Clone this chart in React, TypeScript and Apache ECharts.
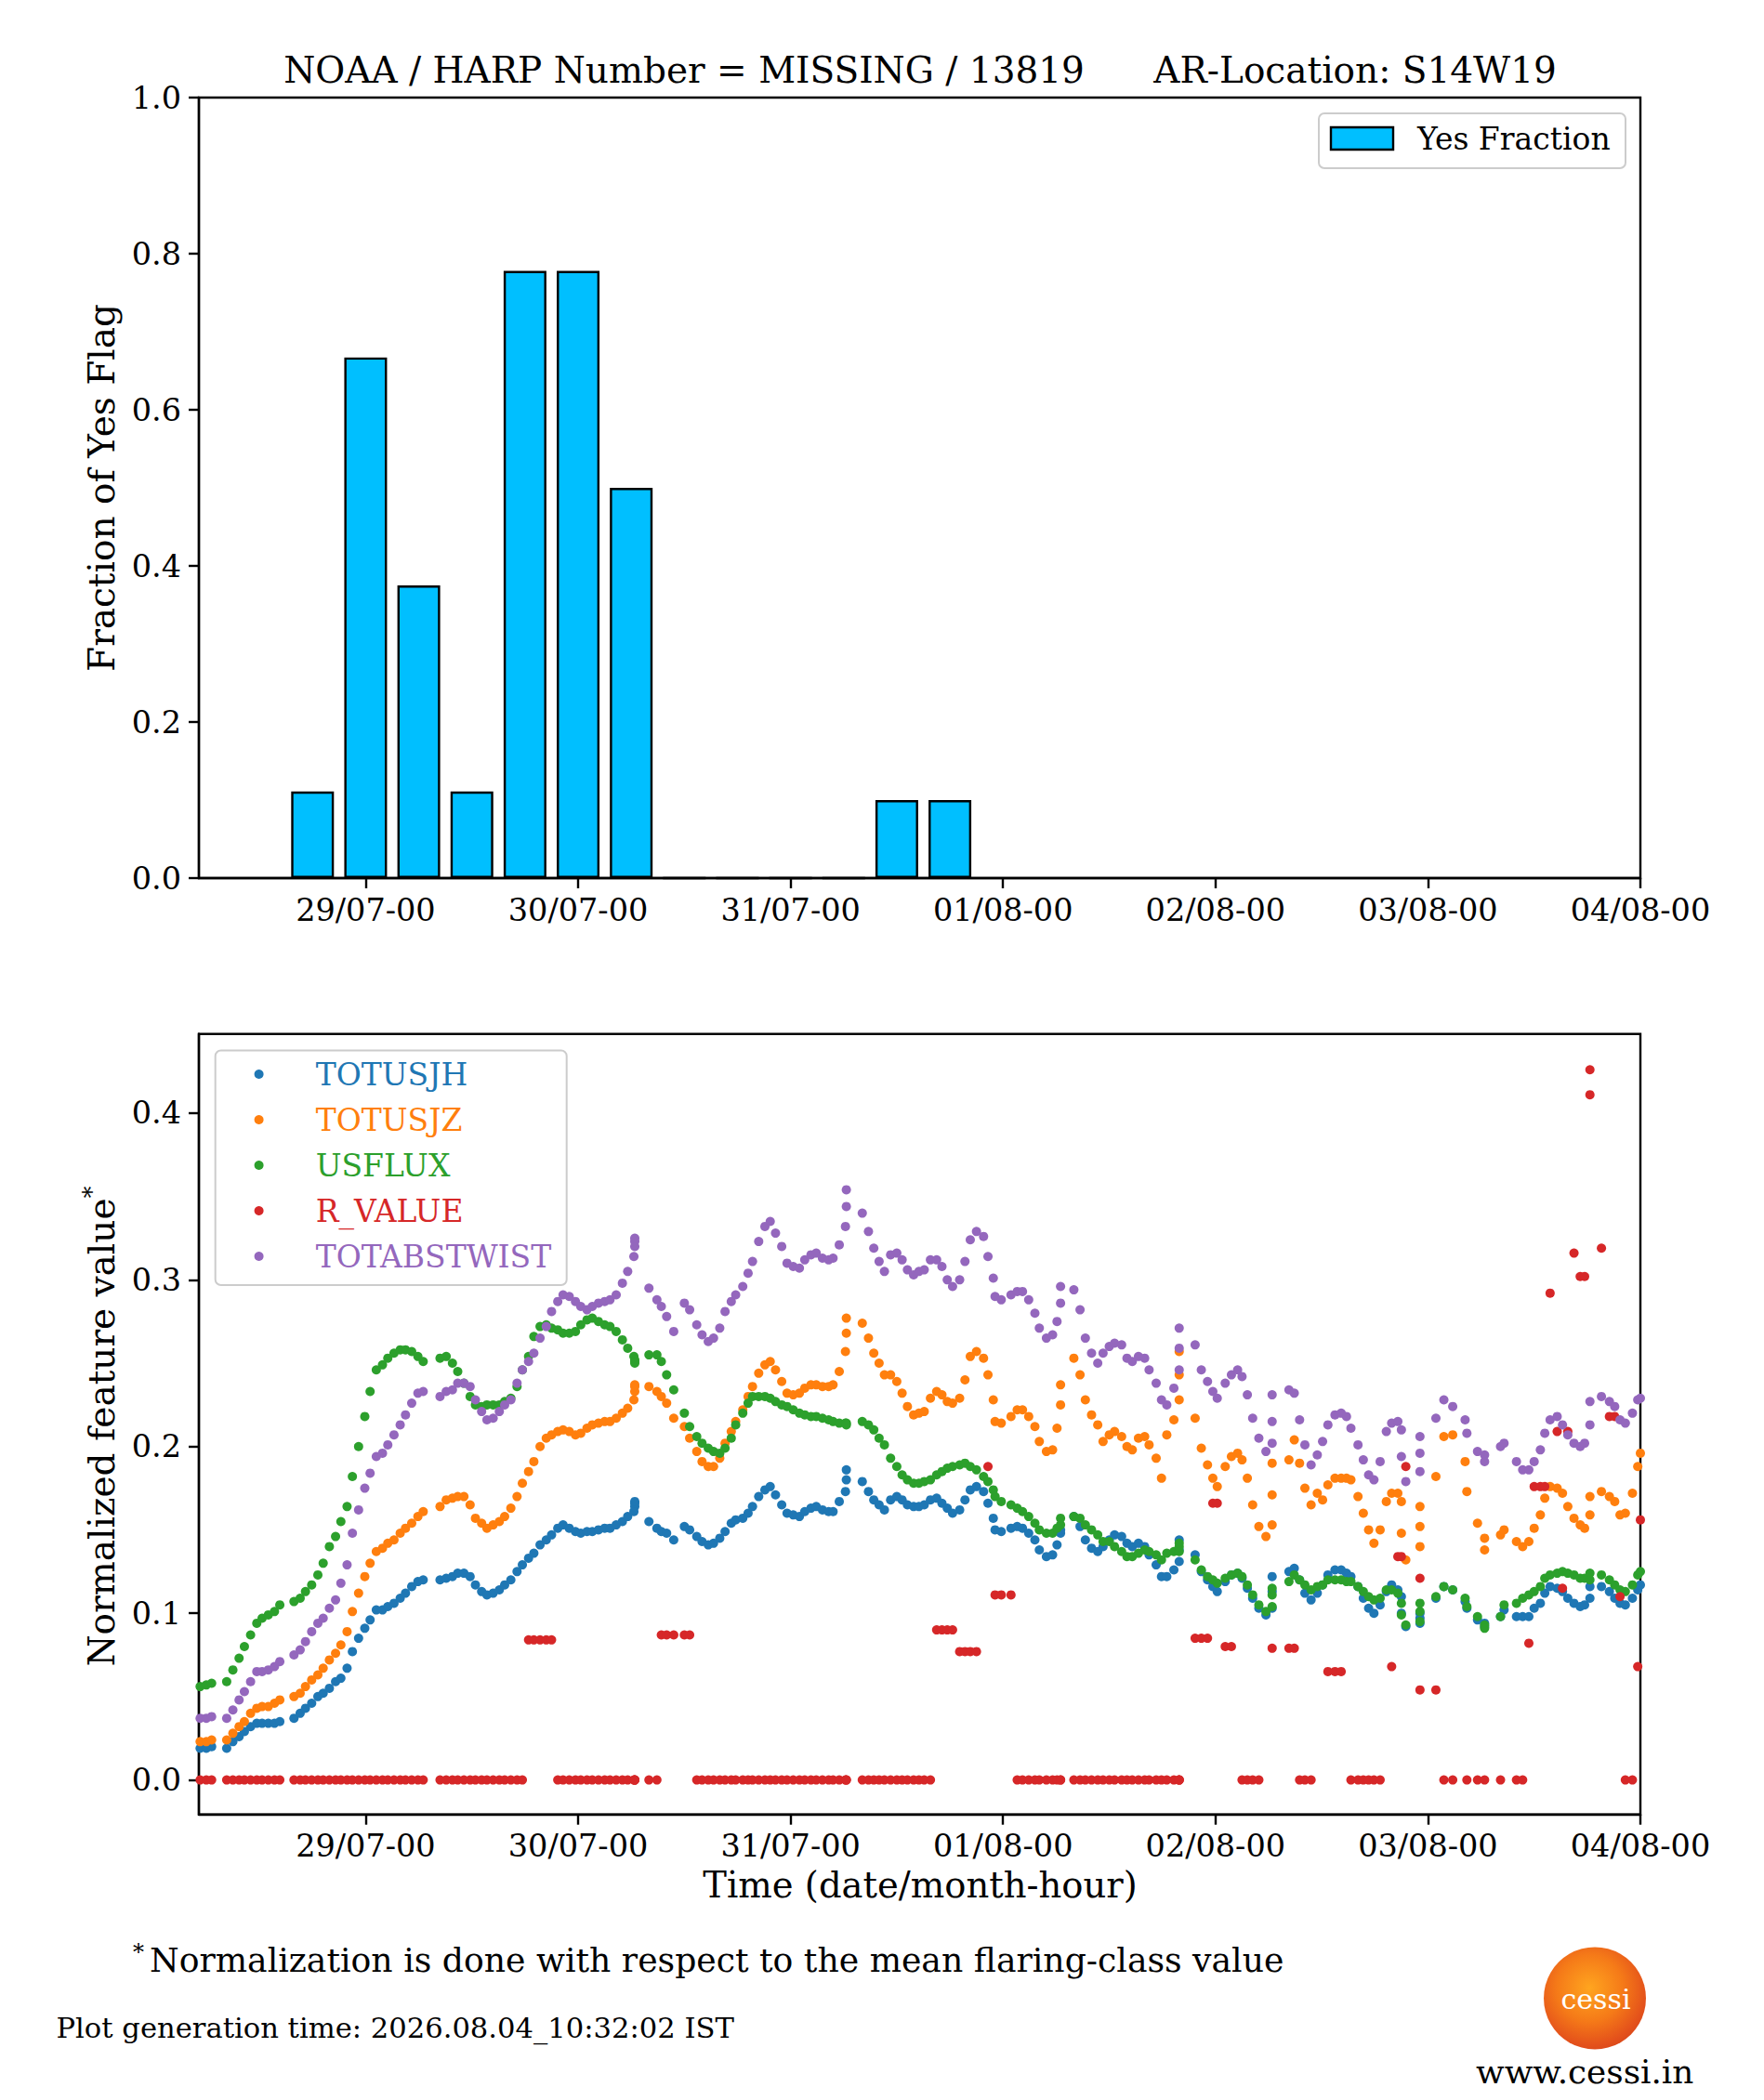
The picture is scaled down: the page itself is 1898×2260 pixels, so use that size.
import React, { useEffect, useRef } from 'react';
import * as echarts from 'echarts';

const FONT = 'DejaVu Serif';

// top panel: fraction of "yes" flags in 6-hour bins (hours since 28/07 00:00)
const yesHours = [18, 24, 30, 36, 42, 48, 54, 60, 66, 72, 78, 84, 90];
const yesFraction = [0.111, 0.667, 0.375, 0.111, 0.778, 0.778, 0.5, 0, 0, 0, 0, 0.1, 0.1];

const tickHours = [24, 48, 72, 96, 120, 144, 168];
const tickLabels = ['29/07-00', '30/07-00', '31/07-00', '01/08-00', '02/08-00', '03/08-00', '04/08-00'];
const bottomTicks = [0, 0.1, 0.2, 0.3, 0.4];

const featureNames = ['TOTUSJH', 'TOTUSJZ', 'USFLUX', 'R_VALUE', 'TOTABSTWIST'];
const featureColors = ['#1f77b4', '#ff7f0e', '#2ca02c', '#d62728', '#9467bd'];

// record times, hours since 28/07 00:00
const hours = [
  5.3, 6.0, 6.6,
  8.3, 9.0, 9.7, 10.3, 11.0, 11.7, 12.3, 13.0, 13.7, 14.3,
  15.9, 16.6, 17.2, 17.9, 18.6, 19.2, 19.9, 20.6, 21.2, 21.9, 22.5, 23.2, 23.9, 24.5, 25.2, 25.9, 26.5, 27.2, 27.9, 28.5, 29.2, 29.9, 30.5,
  32.4, 33.1, 33.8, 34.4, 35.1, 35.8, 36.4, 37.1, 37.7, 38.4, 39.1, 39.7, 40.4, 41.1, 41.7, 42.4, 43.0, 43.7, 44.4, 45.0, 45.7, 46.3, 47.0, 47.7, 48.3, 49.0, 49.6, 50.3, 51.0, 51.6, 52.3, 53.0, 53.6, 54.3, 54.4, 54.4, 54.4,
  56.0, 56.9, 57.4, 58.0, 58.8,
  60.0, 60.6, 61.4, 62.0, 62.7, 63.3, 64.0, 64.6, 65.3, 65.8, 66.6, 67.2, 67.7, 68.4, 69.1, 69.7, 70.3, 71.0, 71.6, 72.3, 73.0, 73.6, 74.3, 74.9, 75.6, 76.3, 76.8, 77.5, 78.2, 78.3, 78.3,
  80.1, 80.8, 81.4, 82.0, 82.6, 83.3, 84.0, 84.6, 85.2, 85.9, 86.5, 87.1, 87.8, 88.5, 89.1, 89.7, 90.3, 91.1, 91.7, 92.3, 93.0, 93.8, 94.3, 94.9, 95.1, 95.8, 96.9, 97.6, 98.2, 98.9, 99.6, 100.1, 100.9, 101.6, 102.1, 102.5, 102.5,
  104.0, 104.7, 105.3, 106.0, 106.7, 107.3, 108.0, 108.6, 109.4, 110.0, 110.6, 111.3, 112.0, 112.5, 113.3, 113.9, 114.5, 115.3, 115.9, 115.9, 115.9,
  117.7, 118.4, 119.1, 119.7, 120.2, 121.1, 121.8, 122.5, 123.0, 123.6, 124.2, 124.9, 125.7, 126.4, 126.4, 126.4,
  128.3, 128.9, 129.5, 130.1, 130.8, 131.5, 132.1, 132.7, 133.5, 134.2, 134.8, 135.3, 136.1, 136.7, 137.3, 137.9, 138.6, 139.3, 139.9, 140.6, 141.0, 141.0, 141.5,
  143.1, 143.1, 143.1,
  144.9, 145.8, 146.8, 148.2, 148.4, 149.6, 150.4, 150.4, 152.2, 152.6, 154.0, 154.7, 155.4, 156.0, 156.7, 157.2, 157.8, 158.6, 159.2, 159.8, 160.5, 161.2, 161.7, 162.3, 162.3, 163.6, 164.5, 165.1, 165.7, 166.3, 167.1, 167.7, 168.0,
];

const totusjh = [
  0.019, 0.019, 0.020,
  0.019, 0.023, 0.026, 0.029, 0.032, 0.034, 0.034, 0.034, 0.034, 0.035,
  0.037, 0.040, 0.043, 0.046, 0.050, 0.052, 0.055, 0.059, 0.061, 0.067, 0.077, 0.085, 0.091, 0.096, 0.102, 0.102, 0.104, 0.106, 0.109, 0.112, 0.116, 0.119, 0.120,
  0.120, 0.121, 0.122, 0.124, 0.124, 0.122, 0.117, 0.113, 0.111, 0.112, 0.114, 0.117, 0.120, 0.125, 0.129, 0.133, 0.136, 0.141, 0.144, 0.147, 0.151, 0.153, 0.151, 0.149, 0.148, 0.149, 0.149, 0.150, 0.151, 0.151, 0.153, 0.155, 0.158, 0.161, 0.164, 0.166, 0.167,
  0.155, 0.151, 0.149, 0.148, 0.144,
  0.152, 0.150, 0.146, 0.143, 0.141, 0.142, 0.145, 0.149, 0.154, 0.156, 0.157, 0.160, 0.164, 0.170, 0.174, 0.176, 0.171, 0.165, 0.160, 0.159, 0.158, 0.161, 0.163, 0.164, 0.162, 0.161, 0.161, 0.167, 0.173, 0.180, 0.186,
  0.179, 0.173, 0.168, 0.165, 0.162, 0.168, 0.170, 0.168, 0.165, 0.164, 0.164, 0.165, 0.168, 0.169, 0.166, 0.163, 0.160, 0.162, 0.168, 0.174, 0.176, 0.173, 0.166, 0.157, 0.150, 0.149, 0.151, 0.152, 0.151, 0.148, 0.144, 0.138, 0.134, 0.135, 0.141, 0.148, 0.150,
  0.158, 0.152, 0.144, 0.139, 0.137, 0.140, 0.144, 0.147, 0.146, 0.142, 0.140, 0.142, 0.140, 0.135, 0.129, 0.122, 0.122, 0.126, 0.131, 0.138, 0.144,
  0.135, 0.125, 0.120, 0.116, 0.113, 0.119, 0.123, 0.124, 0.121, 0.115, 0.109, 0.103, 0.099, 0.103, 0.113, 0.122,
  0.125, 0.127, 0.120, 0.112, 0.108, 0.112, 0.117, 0.123, 0.126, 0.126, 0.124, 0.122, 0.116, 0.109, 0.103, 0.100, 0.105, 0.113, 0.117, 0.114, 0.110, 0.100, 0.092,
  0.100, 0.097, 0.094,
  0.109, 0.116, 0.114, 0.107, 0.103, 0.096, 0.094, 0.092, 0.098, 0.102, 0.098, 0.098, 0.098, 0.103, 0.106, 0.112, 0.116, 0.115, 0.113, 0.109, 0.106, 0.104, 0.105, 0.109, 0.116, 0.116, 0.113, 0.109, 0.106, 0.105, 0.109, 0.114, 0.117,
];

const totusjz = [
  0.023, 0.023, 0.024,
  0.024, 0.028, 0.032, 0.035, 0.040, 0.043, 0.044, 0.044, 0.046, 0.048,
  0.050, 0.052, 0.056, 0.060, 0.063, 0.067, 0.072, 0.076, 0.081, 0.089, 0.101, 0.112, 0.122, 0.130, 0.137, 0.139, 0.142, 0.144, 0.148, 0.151, 0.154, 0.158, 0.161,
  0.164, 0.168, 0.169, 0.170, 0.170, 0.165, 0.157, 0.154, 0.151, 0.153, 0.155, 0.158, 0.163, 0.170, 0.178, 0.185, 0.191, 0.200, 0.205, 0.207, 0.209, 0.210, 0.209, 0.207, 0.208, 0.211, 0.213, 0.214, 0.215, 0.215, 0.217, 0.220, 0.223, 0.228, 0.233, 0.236, 0.237,
  0.236, 0.233, 0.230, 0.226, 0.217,
  0.212, 0.205, 0.197, 0.191, 0.188, 0.188, 0.193, 0.202, 0.209, 0.215, 0.222, 0.230, 0.236, 0.244, 0.249, 0.251, 0.246, 0.239, 0.232, 0.231, 0.232, 0.235, 0.237, 0.237, 0.236, 0.236, 0.237, 0.245, 0.257, 0.268, 0.277,
  0.274, 0.265, 0.256, 0.250, 0.243, 0.243, 0.239, 0.232, 0.224, 0.219, 0.220, 0.221, 0.229, 0.233, 0.231, 0.227, 0.226, 0.229, 0.240, 0.254, 0.257, 0.253, 0.243, 0.228, 0.215, 0.214, 0.218, 0.222, 0.222, 0.218, 0.212, 0.203, 0.197, 0.198, 0.211, 0.225, 0.237,
  0.253, 0.243, 0.228, 0.219, 0.213, 0.203, 0.207, 0.209, 0.206, 0.200, 0.198, 0.205, 0.206, 0.201, 0.193, 0.181, 0.207, 0.216, 0.228, 0.243, 0.257,
  0.217, 0.199, 0.189, 0.181, 0.176, 0.188, 0.194, 0.196, 0.192, 0.181, 0.165, 0.152, 0.146, 0.153, 0.171, 0.190,
  0.192, 0.204, 0.190, 0.175, 0.165, 0.172, 0.168, 0.177, 0.181, 0.181, 0.181, 0.180, 0.170, 0.160, 0.150, 0.142, 0.150, 0.167, 0.172, 0.172, 0.167, 0.148, 0.132,
  0.164, 0.152, 0.140,
  0.182, 0.206, 0.207, 0.191, 0.173, 0.154, 0.145, 0.138, 0.147, 0.150, 0.143, 0.140, 0.143, 0.151, 0.159, 0.169, 0.176, 0.175, 0.172, 0.164, 0.157, 0.153, 0.151, 0.159, 0.170, 0.173, 0.170, 0.167, 0.159, 0.160, 0.172, 0.188, 0.196,
];

const usflux = [
  0.056, 0.057, 0.058,
  0.059, 0.066, 0.073, 0.080, 0.087, 0.094, 0.097, 0.099, 0.101, 0.105,
  0.107, 0.109, 0.113, 0.117, 0.123, 0.130, 0.140, 0.146, 0.155, 0.164, 0.182, 0.200, 0.218, 0.233, 0.246, 0.249, 0.253, 0.256, 0.258, 0.258, 0.257, 0.254, 0.251,
  0.253, 0.254, 0.250, 0.245, 0.238, 0.230, 0.225, 0.224, 0.225, 0.225, 0.225, 0.227, 0.229, 0.236, 0.246, 0.254, 0.266, 0.272, 0.273, 0.271, 0.270, 0.268, 0.268, 0.269, 0.273, 0.276, 0.277, 0.275, 0.273, 0.272, 0.269, 0.264, 0.259, 0.254, 0.252, 0.251, 0.250,
  0.255, 0.255, 0.251, 0.243, 0.234,
  0.220, 0.212, 0.206, 0.202, 0.199, 0.197, 0.196, 0.199, 0.205, 0.213, 0.220, 0.226, 0.230, 0.230, 0.230, 0.229, 0.227, 0.225, 0.224, 0.222, 0.220, 0.219, 0.218, 0.218, 0.217, 0.216, 0.215, 0.214, 0.214, 0.214, 0.213,
  0.215, 0.213, 0.210, 0.205, 0.201, 0.193, 0.188, 0.183, 0.180, 0.178, 0.178, 0.179, 0.180, 0.183, 0.185, 0.187, 0.188, 0.189, 0.190, 0.188, 0.186, 0.182, 0.179, 0.174, 0.170, 0.167, 0.165, 0.163, 0.161, 0.158, 0.154, 0.150, 0.148, 0.148, 0.151, 0.153, 0.157,
  0.158, 0.157, 0.153, 0.150, 0.147, 0.143, 0.143, 0.140, 0.137, 0.134, 0.134, 0.136, 0.138, 0.137, 0.135, 0.132, 0.136, 0.137, 0.137, 0.140, 0.142,
  0.132, 0.126, 0.122, 0.120, 0.118, 0.121, 0.123, 0.124, 0.122, 0.117, 0.111, 0.105, 0.101, 0.104, 0.111, 0.115,
  0.119, 0.123, 0.120, 0.117, 0.114, 0.116, 0.117, 0.120, 0.120, 0.120, 0.119, 0.119, 0.116, 0.113, 0.110, 0.108, 0.109, 0.114, 0.114, 0.112, 0.106, 0.099, 0.093,
  0.106, 0.101, 0.095,
  0.110, 0.116, 0.114, 0.109, 0.104, 0.098, 0.093, 0.091, 0.098, 0.105, 0.106, 0.109, 0.111, 0.113, 0.116, 0.121, 0.123, 0.124, 0.125, 0.124, 0.123, 0.121, 0.121, 0.124, 0.120, 0.123, 0.120, 0.117, 0.114, 0.113, 0.117, 0.123, 0.125,
];

const rValue = [
  0, 0, 0,
  0, 0, 0, 0, 0, 0, 0, 0, 0, 0,
  0, 0, 0, 0, 0, 0, 0, 0, 0, 0, 0, 0, 0, 0, 0, 0, 0, 0, 0, 0, 0, 0, 0,
  0, 0, 0, 0, 0, 0, 0, 0, 0, 0, 0, 0, 0, 0, 0, 0.084, 0.084, 0.084, 0.084, 0.084, 0, 0, 0, 0, 0, 0, 0, 0, 0, 0, 0, 0, 0, 0, 0, 0, 0,
  0, 0, 0.087, 0.087, 0.087,
  0.087, 0.087, 0, 0, 0, 0, 0, 0, 0, 0, 0, 0, 0, 0, 0, 0, 0, 0, 0, 0, 0, 0, 0, 0, 0, 0, 0, 0, 0, 0, 0,
  0, 0, 0, 0, 0, 0, 0, 0, 0, 0, 0, 0, 0, 0.090, 0.090, 0.090, 0.090, 0.077, 0.077, 0.077, 0.077, null, 0.188, null, 0.111, 0.111, 0.111, 0, 0, 0, 0, 0, 0, 0, 0, 0, 0,
  0, 0, 0, 0, 0, 0, 0, 0, 0, 0, 0, 0, 0, 0, 0, 0, 0, 0, 0, 0, 0,
  0.085, 0.085, 0.085, 0.166, 0.166, 0.080, 0.080, null, 0, 0, 0, 0, null, 0.079, null, null,
  0.079, 0.079, 0, 0, 0, null, null, 0.065, 0.065, 0.065, null, 0, 0, 0, 0, 0, 0, null, 0.068, 0.134, 0.134, null, 0.188,
  0.121, 0.054, null,
  0.054, 0, 0, null, 0, 0, 0, null, 0, null, 0, 0, 0.082, 0.176, 0.176, 0.176, 0.292, 0.209, 0.115, 0.209, 0.316, 0.302, 0.302, 0.426, 0.411, 0.319, 0.218, 0.218, 0.110, 0, 0, 0.068, 0.156,
];

const totabstwist = [
  0.037, 0.037, 0.038,
  0.037, 0.042, 0.048, 0.053, 0.059, 0.065, 0.065, 0.066, 0.068, 0.071,
  0.075, 0.078, 0.083, 0.089, 0.094, 0.097, 0.103, 0.108, 0.118, 0.129, 0.148, 0.162, 0.175, 0.184, 0.194, 0.196, 0.201, 0.207, 0.213, 0.219, 0.226, 0.232, 0.233,
  0.230, 0.233, 0.234, 0.238, 0.238, 0.236, 0.228, 0.221, 0.216, 0.217, 0.221, 0.225, 0.228, 0.238, 0.246, 0.251, 0.256, 0.265, 0.272, 0.281, 0.287, 0.291, 0.290, 0.287, 0.284, 0.282, 0.284, 0.286, 0.287, 0.288, 0.291, 0.298, 0.305, 0.314, 0.320, 0.323, 0.325,
  0.295, 0.288, 0.284, 0.278, 0.269,
  0.286, 0.282, 0.273, 0.267, 0.263, 0.265, 0.271, 0.281, 0.287, 0.291, 0.296, 0.304, 0.311, 0.323, 0.332, 0.335, 0.328, 0.320, 0.310, 0.308, 0.307, 0.312, 0.315, 0.316, 0.313, 0.312, 0.313, 0.321, 0.332, 0.344, 0.354,
  0.340, 0.329, 0.319, 0.311, 0.305, 0.315, 0.316, 0.312, 0.306, 0.303, 0.305, 0.306, 0.312, 0.312, 0.308, 0.300, 0.296, 0.300, 0.311, 0.324, 0.329, 0.326, 0.314, 0.301, 0.290, 0.288, 0.291, 0.293, 0.293, 0.288, 0.280, 0.271, 0.265, 0.267, 0.275, 0.286, 0.296,
  0.294, 0.282, 0.265, 0.256, 0.250, 0.256, 0.260, 0.262, 0.261, 0.253, 0.251, 0.254, 0.253, 0.246, 0.238, 0.228, 0.225, 0.235, 0.246, 0.259, 0.271,
  0.261, 0.246, 0.239, 0.233, 0.229, 0.238, 0.243, 0.246, 0.242, 0.231, 0.217, 0.205, 0.197, 0.202, 0.215, 0.231,
  0.234, 0.232, 0.216, 0.201, 0.189, 0.195, 0.203, 0.213, 0.219, 0.220, 0.218, 0.211, 0.201, 0.192, 0.183, 0.180, 0.191, 0.209, 0.214, 0.215, 0.210, 0.194, 0.179,
  0.206, 0.196, 0.185,
  0.217, 0.228, 0.224, 0.216, 0.208, 0.197, 0.195, 0.191, 0.200, 0.202, 0.191, 0.186, 0.186, 0.191, 0.198, 0.208, 0.216, 0.218, 0.213, 0.207, 0.202, 0.200, 0.202, 0.213, 0.227, 0.230, 0.227, 0.224, 0.216, 0.214, 0.220, 0.228, 0.229,
];

const featureValues = [totusjh, totusjz, usflux, rValue, totabstwist];

const X_MIN = 5.16;
const X_MAX = 168;

const line = { color: '#000', width: 2.4 };
const tickFont = { color: '#000', fontFamily: FONT, fontSize: 33.5 };

const hourLabel = (v: number) => {
  const i = tickHours.indexOf(Math.round(v));
  return i >= 0 ? tickLabels[i] : '';
};

const text = (t: string, x: number, y: number, size: number, extra: any = {}) => ({
  type: 'text',
  x,
  y,
  z: 100,
  ...extra,
  style: {
    text: t,
    fontFamily: FONT,
    fontSize: size,
    fill: '#000',
    align: 'left',
    verticalAlign: 'middle',
    ...(extra.style || {}),
  },
});

const App: React.FC = () => {
  const chartRef = useRef<HTMLDivElement>(null);

  useEffect(() => {
    if (!chartRef.current) return;
    const chart = echarts.init(chartRef.current, null, { renderer: 'svg' });

    const xAxisFor = (gridIndex: number) => ({
      type: 'value',
      gridIndex,
      min: X_MIN,
      max: X_MAX,
      axisLine: { show: true, onZero: false, lineStyle: line },
      axisTick: { show: true, length: 11, lineStyle: line, customValues: tickHours },
      axisLabel: { ...tickFont, margin: 17, customValues: tickHours, formatter: hourLabel },
      splitLine: { show: false },
    });

    const scatterSeries = featureNames.map((name, k) => ({
      name,
      type: 'scatter',
      xAxisIndex: 1,
      yAxisIndex: 1,
      symbol: 'circle',
      symbolSize: 10,
      itemStyle: { color: featureColors[k], opacity: 1 },
      data: hours
        .map((h, i) => (featureValues[k][i] == null ? null : [h, featureValues[k][i]]))
        .filter((d) => d !== null),
    }));

    const legendRows = [1156, 1205, 1254, 1303, 1352];

    const option = {
      animation: false,
      backgroundColor: '#ffffff',
      grid: [
        { left: 214, top: 105, width: 1551, height: 840, show: true, borderColor: '#000', borderWidth: 2.4 },
        { left: 214, top: 1112.7, width: 1551, height: 840, show: true, borderColor: '#000', borderWidth: 2.4 },
      ],
      xAxis: [xAxisFor(0), xAxisFor(1)],
      yAxis: [
        {
          type: 'value',
          gridIndex: 0,
          min: 0,
          max: 1,
          interval: 0.2,
          axisLine: { show: true, lineStyle: line },
          axisTick: { show: true, length: 11, lineStyle: line },
          axisLabel: { ...tickFont, margin: 19, formatter: (v: number) => v.toFixed(1) },
          splitLine: { show: false },
        },
        {
          type: 'value',
          gridIndex: 1,
          min: -0.0207,
          max: 0.4475,
          axisLine: { show: true, lineStyle: line },
          axisTick: { show: true, length: 11, lineStyle: line, customValues: bottomTicks },
          axisLabel: { ...tickFont, margin: 19, customValues: bottomTicks, formatter: (v: number) => v.toFixed(1) },
          splitLine: { show: false },
        },
      ],
      series: [
        {
          name: 'Yes Fraction',
          type: 'bar',
          xAxisIndex: 0,
          yAxisIndex: 0,
          barWidth: 46,
          itemStyle: { color: '#00BFFF', borderColor: '#000', borderWidth: 2.4 },
          data: yesHours.map((h, i) => [h, yesFraction[i]]),
        },
        ...scatterSeries,
      ],
      graphic: [
        text('NOAA / HARP Number = MISSING / 13819\u00a0\u00a0\u00a0\u00a0\u00a0\u00a0AR-Location: S14W19', 990, 75.5, 39, {
          style: { align: 'center' },
        }),
        text('Fraction of Yes Flag', 109, 525, 39, { rotation: Math.PI / 2, style: { align: 'center' } }),
        {
          type: 'text',
          x: 109,
          y: 1535,
          z: 100,
          rotation: Math.PI / 2,
          style: {
            text: '{a|Normalized feature value}{b|*}',
            align: 'center',
            verticalAlign: 'middle',
            fill: '#000',
            rich: {
              a: { fontFamily: FONT, fontSize: 39, fill: '#000', lineHeight: 46 },
              b: { fontFamily: FONT, fontSize: 26, fill: '#000', verticalAlign: 'top', lineHeight: 46 },
            },
          },
        },
        text('Time (date/month-hour)', 990, 2028.7, 38.5, { style: { align: 'center' } }),
        // top legend
        {
          type: 'rect',
          z: 90,
          shape: { x: 1419, y: 122, width: 330, height: 59, r: 6 },
          style: { fill: 'rgba(255,255,255,0.8)', stroke: '#cccccc', lineWidth: 2 },
        },
        {
          type: 'rect',
          z: 95,
          shape: { x: 1432, y: 137, width: 67, height: 24 },
          style: { fill: '#00BFFF', stroke: '#000', lineWidth: 2.4 },
        },
        text('Yes Fraction', 1525, 149, 33),
        // bottom legend
        {
          type: 'rect',
          z: 90,
          shape: { x: 231.7, y: 1130.5, width: 378, height: 252.5, r: 6 },
          style: { fill: 'rgba(255,255,255,0.8)', stroke: '#cccccc', lineWidth: 2 },
        },
        ...featureNames.map((name, k) => ({
          type: 'circle',
          z: 95,
          shape: { cx: 278.6, cy: legendRows[k], r: 5 },
          style: { fill: featureColors[k] },
        })),
        ...featureNames.map((name, k) =>
          text(name, 339.7, legendRows[k], 33, { style: { fill: featureColors[k] } })
        ),
        // footer
        text('*', 143, 2101, 24),
        text('Normalization is done with respect to the mean flaring-class value', 161, 2109.2, 36.2),
        text('Plot generation time: 2026.08.04_10:32:02 IST', 60.5, 2182.2, 30.6),
        {
          type: 'circle',
          z: 90,
          shape: { cx: 1716, cy: 2150.5, r: 55 },
          style: {
            fill: new echarts.graphic.RadialGradient(0.45, 0.4, 0.65, [
              { offset: 0, color: '#ffa51f' },
              { offset: 0.5, color: '#f57a18' },
              { offset: 0.85, color: '#e4521b' },
              { offset: 1, color: '#d8451a' },
            ]),
          },
        },
        text('cessi', 1717, 2151.3, 30, { style: { fill: '#ffffff', align: 'center' } }),
        text('www.cessi.in', 1588, 2229.5, 35.8),
      ],
    };

    chart.setOption(option as any);
    return () => chart.dispose();
  }, []);

  return (
    <div
      ref={chartRef}
      style={{ position: 'absolute', left: 0, top: 0, width: 1898, height: 2260, background: '#fff' }}
    />
  );
};

export default App;
